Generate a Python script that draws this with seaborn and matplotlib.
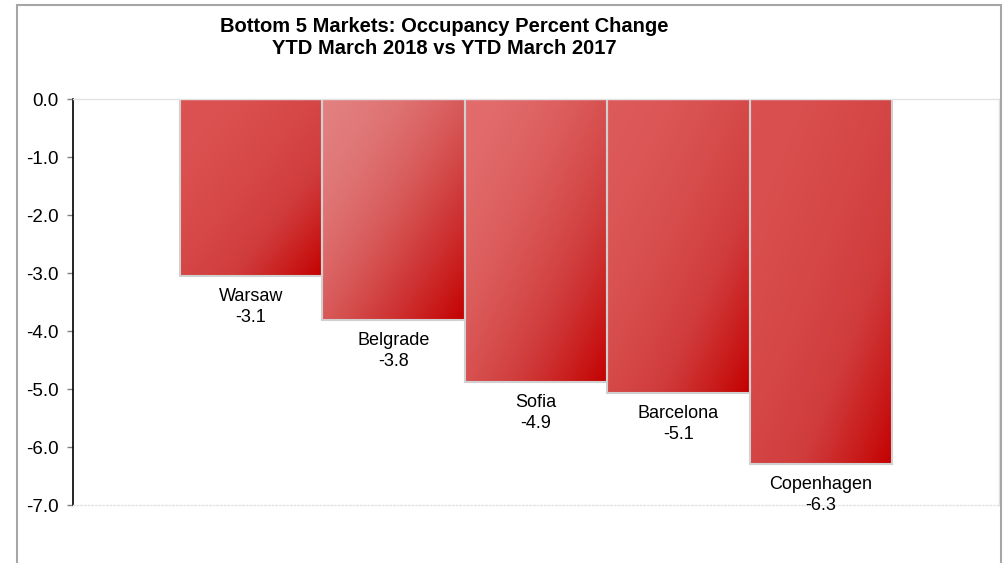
import numpy as np
import pandas as pd
import seaborn as sns
from matplotlib import pyplot as plt
from matplotlib.colors import LinearSegmentedColormap
from matplotlib.patches import Rectangle

# ==== chart data ====
markets = ['Warsaw', 'Belgrade', 'Sofia', 'Barcelona', 'Copenhagen']
occ_change = [-3.05, -3.81, -4.88, -5.07, -6.29]
value_labels = ['-3.1', '-3.8', '-4.9', '-5.1', '-6.3']
yticks = [0.0, -1.0, -2.0, -3.0, -4.0, -5.0, -6.0, -7.0]
title_lines = ['Bottom 5 Markets: Occupancy Percent Change', 'YTD March 2018 vs YTD March 2017']

# light corner colour of each bar gradient (top-left), dark corner shared
light_cols = ['#dc5252', '#e27f7f', '#e26c6c', '#dd5a5a', '#da5050']
dark_col = '#c40000'

sns.set_theme(style='white')
plt.rcParams['font.family'] = ['Liberation Sans', 'DejaVu Sans']
plt.rcParams['text.color'] = 'black'
plt.rcParams['ytick.color'] = 'black'

df = pd.DataFrame({'market': markets, 'change': occ_change})

fig = plt.figure(figsize=(10.07, 5.63), dpi=100)
ax = fig.add_axes([73 / 1007, 1 - 505 / 563, (999 - 73) / 1007, (505 - 99) / 563])

sns.barplot(data=df, x='market', y='change', order=markets, width=1.0,
            color=dark_col, edgecolor='#d0d0d0', linewidth=1.5, ax=ax)

# ---- gradient fill clipped to each bar ----
gx, gy = np.meshgrid(np.linspace(0, 1, 200), np.linspace(0, 1, 200))
grad = ((gx + gy) / 2.0) ** 1.8
for p, lc in zip(ax.patches, light_cols):
    x0, y0 = p.get_x(), p.get_y()
    w, h = p.get_width(), p.get_height()
    cmap = LinearSegmentedColormap.from_list('g', [lc, '#d03c3c', dark_col])
    ymin, ymax = min(y0, y0 + h), max(y0, y0 + h)
    im = ax.imshow(grad, cmap=cmap, extent=[x0, x0 + w, ymin, ymax], origin='upper',
                   aspect='auto', interpolation='bilinear', zorder=p.get_zorder())
    im.set_clip_path(p)
    p.set_facecolor('none')
    p.set_zorder(p.get_zorder() + 0.1)

ax.set_xlim(-1.25, 5.25)
ax.set_ylim(-7.0, 0.0)

# ---- labels under bars ----
for i, (v, lab) in enumerate(zip(occ_change, value_labels)):
    ax.annotate(f'{markets[i]}\n{lab}', xy=(i, v), xytext=(0, -12), textcoords='offset pixels',
                ha='center', va='top', fontsize=13, linespacing=1.3, color='black',
                annotation_clip=False)

ax.set_yticks(yticks)
ax.set_yticklabels([f'{t:.1f}' for t in yticks], fontsize=13.5, color='black')
ax.set_xticks([])
ax.set_xlabel('')
ax.set_ylabel('')
ax.tick_params(axis='y', left=True, direction='out', length=4.5, width=1, color='#808080', pad=6)

ax.spines['left'].set_color('black')
ax.spines['left'].set_linewidth(1.2)
for s in ['top', 'right', 'bottom']:
    ax.spines[s].set_color('#e2e2e2')
    ax.spines[s].set_linewidth(1)
ax.spines['bottom'].set_linestyle(':')

# ---- title ----
fig.text(444 / 1007, 1 - 37 / 563, '\n'.join(title_lines), ha='center', va='center',
         fontsize=14.5, fontweight='bold', linespacing=1.2, color='black')

# ---- chart frame ----
fig.patches.append(Rectangle((17 / 1007, -0.05), (1001 - 17) / 1007, 1.05 - 5 / 563,
                             transform=fig.transFigure, fill=False, edgecolor='#a6a6a6',
                             linewidth=1.5, zorder=0))

fig.savefig('out.png', dpi=100)
